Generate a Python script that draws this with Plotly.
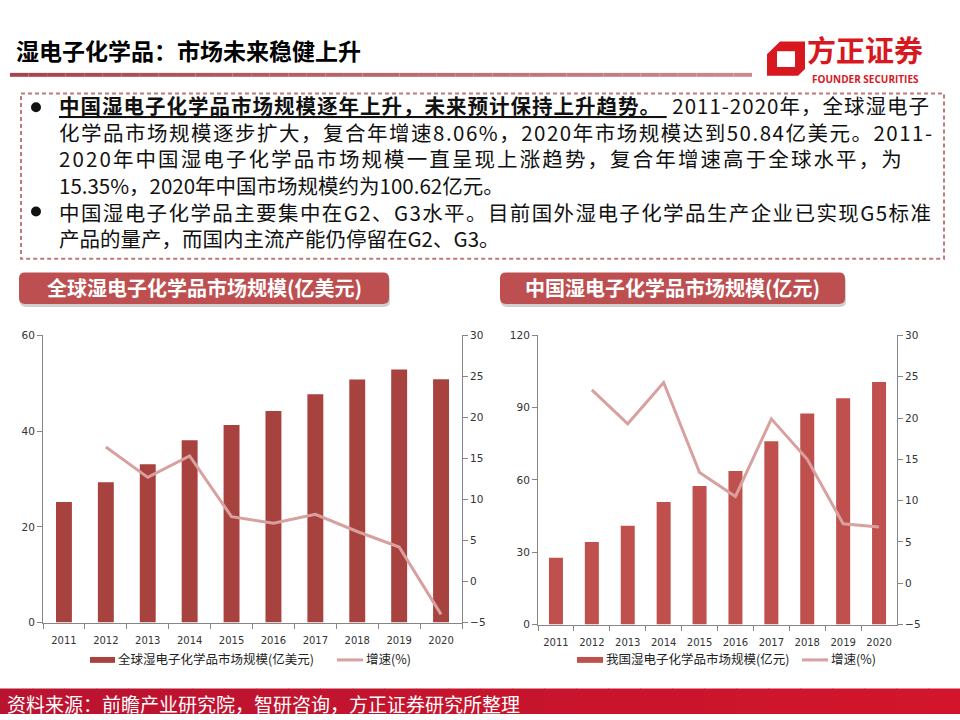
import plotly.graph_objects as go

# ---------------- data ----------------
years = ["2011", "2012", "2013", "2014", "2015", "2016", "2017", "2018", "2019", "2020"]
global_size = [25.2, 29.3, 33.1, 38.1, 41.3, 44.2, 47.7, 50.8, 52.9, 50.84]
global_growth = [None, 16.4, 12.7, 15.3, 7.9, 7.1, 8.2, 6.1, 4.2, -4.0]
china_size = [27.7, 34.3, 41.0, 50.9, 57.5, 63.7, 76.1, 87.6, 93.9, 100.62]
china_growth = [None, 23.4, 19.3, 24.3, 13.4, 10.5, 19.9, 15.0, 7.2, 6.8]

global_bar_name = "全球湿电子化学品市场规模(亿美元)"
china_bar_name = "我国湿电子化学品市场规模(亿元)"
growth_name = "增速(%)"

page_title = "湿电子化学品：市场未来稳健上升"
left_title = "全球湿电子化学品市场规模(亿美元)"
right_title = "中国湿电子化学品市场规模(亿元)"
source_text = "资料来源：前瞻产业研究院，智研咨询，方正证券研究所整理"
body_lines = [
    "<b><u>中国湿电子化学品市场规模逐年上升，未来预计保持上升趋势。 </u></b> 2011-2020年，全球湿电子",
    "化学品市场规模逐步扩大，复合年增速8.06%，2020年市场规模达到50.84亿美元。2011-",
    "2020年中国湿电子化学品市场规模一直呈现上涨趋势，复合年增速高于全球水平，为",
    "15.35%，2020年中国市场规模约为100.62亿元。",
    "中国湿电子化学品主要集中在G2、G3水平。目前国外湿电子化学品生产企业已实现G5标准",
    "产品的量产，而国内主流产能仍停留在G2、G3。",
]
line_spacing_px = [1.0, 1.5, 2.1, 0, 1.4, 0]

# ---------------- helpers ----------------
W, H = 960, 720
CJK = "Noto Sans CJK SC"
TICKF = "DejaVu Sans"


def X(p):
    return p / W


def Y(p):
    return 1 - p / H


def lerp_color(c1, c2, t):
    a = [int(c1[i:i + 2], 16) for i in (1, 3, 5)]
    b = [int(c2[i:i + 2], 16) for i in (1, 3, 5)]
    return "#" + "".join(f"{int(round(a[k] + (b[k] - a[k]) * t)):02x}" for k in range(3))


def rrect_path(x0, y0, x1, y1, r):
    pts = [
        ("M", [(x0 + r, y0)]),
        ("L", [(x1 - r, y0)]),
        ("Q", [(x1, y0), (x1, y0 + r)]),
        ("L", [(x1, y1 - r)]),
        ("Q", [(x1, y1), (x1 - r, y1)]),
        ("L", [(x0 + r, y1)]),
        ("Q", [(x0, y1), (x0, y1 - r)]),
        ("L", [(x0, y0 + r)]),
        ("Q", [(x0, y0), (x0 + r, y0)]),
    ]
    s = ""
    for cmd, ps in pts:
        s += cmd + " " + " ".join(f"{X(a):.5f},{Y(b):.5f}" for a, b in ps) + " "
    return s + "Z"


def poly_path(points):
    return "M " + " L ".join(f"{X(a):.5f},{Y(b):.5f}" for a, b in points) + " Z"


BAR_L = "#A8423F"
BAR_R = "#C0504D"
LINE_C = "#D8A09F"
AXIS_C = "#868686"

fig = go.Figure()

fig.add_trace(go.Bar(x=years, y=global_size, name=global_bar_name, width=0.38,
                     marker=dict(color=BAR_L, line=dict(width=0)),
                     xaxis="x", yaxis="y", showlegend=False))
fig.add_trace(go.Scatter(x=years, y=global_growth, name=growth_name, mode="lines",
                         line=dict(color=LINE_C, width=3),
                         xaxis="x", yaxis="y2", showlegend=False))
fig.add_trace(go.Bar(x=years, y=china_size, name=china_bar_name, width=0.39,
                     marker=dict(color=BAR_R, line=dict(width=0)),
                     xaxis="x2", yaxis="y3", showlegend=False))
fig.add_trace(go.Scatter(x=years, y=china_growth, name=growth_name, mode="lines",
                         line=dict(color=LINE_C, width=3),
                         xaxis="x2", yaxis="y4", showlegend=False))

tickfont = dict(family=TICKF, size=10, color="#333333")
common_x = dict(type="category", showline=True, linecolor=AXIS_C, linewidth=1,
                ticks="outside", tickson="boundaries", ticklen=5, tickcolor=AXIS_C,
                tickfont=tickfont, tickangle=0, ticklabelstandoff=8,
                showgrid=False, zeroline=False, fixedrange=True)
common_y = dict(showline=True, linecolor=AXIS_C, linewidth=1, ticks="outside",
                ticklen=5, tickcolor=AXIS_C, tickfont=dict(family=TICKF, size=10.5, color="#333333"),
                showgrid=False, zeroline=False, fixedrange=True)

shapes = []
annotations = []

# title
annotations.append(dict(x=X(14), y=Y(45), xref="paper", yref="paper", xanchor="left",
                        yanchor="middle", showarrow=False, text=f"<b>{page_title}</b>",
                        font=dict(family=CJK, size=23, color="#000000")))
# gradient rule under title
n = 40
x_start, x_end = 10, 752
for i in range(n):
    xa = x_start + (x_end - x_start) * i / n
    xb = x_start + (x_end - x_start) * (i + 1) / n
    shapes.append(dict(type="rect", xref="paper", yref="paper", x0=X(xa), x1=X(xb),
                       y0=Y(72), y1=Y(68), line=dict(width=0),
                       fillcolor=lerp_color("#A8434B", "#C98A8E", i / (n - 1))))

# logo
LOGO_RED = "#D7181F"
shapes.append(dict(type="path", xref="paper", yref="paper",
                   path=poly_path([(767, 49), (780, 36), (805, 36), (805, 64), (798, 71), (767, 71)]),
                   fillcolor=LOGO_RED, line=dict(width=0)))
shapes.append(dict(type="path", xref="paper", yref="paper",
                   path=poly_path([(777, 46), (795, 46), (795, 62), (777, 62)]),
                   fillcolor="#ffffff", line=dict(width=0)))
annotations.append(dict(x=X(865), y=Y(44), xref="paper", yref="paper", xanchor="center",
                        yanchor="middle", showarrow=False, text="<b>方正证券</b>",
                        font=dict(family=CJK, size=29, color=LOGO_RED)))
annotations.append(dict(x=X(865), y=Y(74), xref="paper", yref="paper", xanchor="center",
                        yanchor="middle", showarrow=False, text="<b>FOUNDER SECURITIES</b>",
                        font=dict(family="Open Sans", size=10, color=LOGO_RED)))

# dashed text box
shapes.append(dict(type="rect", xref="paper", yref="paper", x0=X(21), x1=X(944),
                   y0=Y(89), y1=Y(257), line=dict(color="#C07878", width=2, dash="4px,3px"),
                   fillcolor="rgba(0,0,0,0)"))
body_html = "<br>".join(
    (f'<span style="letter-spacing:{sp}px">{t}</span>' if sp else t)
    for t, sp in zip(body_lines, line_spacing_px)
)
annotations.append(dict(x=X(57), y=Y(168), xref="paper", yref="paper", xanchor="left",
                        yanchor="middle", align="left", showarrow=False, text=body_html,
                        font=dict(family=CJK, size=20.5, color="#111111")))
for by in (103, 209):
    shapes.append(dict(type="circle", xref="paper", yref="paper", x0=X(31), x1=X(41),
                       y0=Y(by - 5), y1=Y(by + 5), fillcolor="#111111", line=dict(width=0)))

# chart title pills
for (x0, x1, ttl) in ((19, 389, left_title), (500, 845, right_title)):
    shapes.append(dict(type="path", xref="paper", yref="paper",
                       path=rrect_path(x0 + 1, 274, x1 + 1, 306, 6),
                       fillcolor="rgba(120,120,120,0.35)", line=dict(width=0)))
    shapes.append(dict(type="path", xref="paper", yref="paper",
                       path=rrect_path(x0, 271, x1, 303, 6),
                       fillcolor="#BE4F50", line=dict(width=0)))
    annotations.append(dict(x=X((x0 + x1) / 2), y=Y(286), xref="paper", yref="paper",
                            xanchor="center", yanchor="middle", showarrow=False,
                            text=f"<b>{ttl}</b>",
                            font=dict(family=CJK, size=20, color="#ffffff")))

# manual legends
legend_items = [
    ("bar", 90, 115, global_bar_name, BAR_L),
    ("line", 337, 363, growth_name, LINE_C),
    ("bar", 577, 603, china_bar_name, BAR_R),
    ("line", 802, 828, growth_name, LINE_C),
]
LEG_Y = 665
for kind, a, b, label, col in legend_items:
    if kind == "bar":
        shapes.append(dict(type="rect", xref="paper", yref="paper", x0=X(a), x1=X(b),
                           y0=Y(LEG_Y + 3), y1=Y(LEG_Y - 3), fillcolor=col, line=dict(width=0)))
    else:
        shapes.append(dict(type="line", xref="paper", yref="paper", x0=X(a), x1=X(b),
                           y0=Y(LEG_Y), y1=Y(LEG_Y), line=dict(color=col, width=3)))
    annotations.append(dict(x=X(b + 1), y=Y(LEG_Y - 1), xref="paper", yref="paper",
                            xanchor="left", yanchor="middle", showarrow=False, text=label,
                            font=dict(family=CJK, size=12.5, color="#222222")))

# footer band
nf = 30
for i in range(nf):
    xa = W * i / nf
    xb = W * (i + 1) / nf + 0.5
    shapes.append(dict(type="rect", xref="paper", yref="paper", x0=X(xa), x1=X(xb),
                       y0=Y(720), y1=Y(694), line=dict(width=0),
                       fillcolor=lerp_color("#BA1330", "#D2152A", i / (nf - 1))))
annotations.append(dict(x=X(5), y=Y(709), xref="paper", yref="paper", xanchor="left",
                        yanchor="middle", showarrow=False, text=source_text,
                        font=dict(family=CJK, size=19, color="#ffffff")))

fig.update_layout(
    width=W, height=H, margin=dict(l=0, r=0, t=0, b=0),
    paper_bgcolor="#ffffff", plot_bgcolor="#ffffff",
    xaxis=dict(domain=[X(43), X(462)], anchor="y", **common_x),
    yaxis=dict(domain=[Y(627), Y(335)], anchor="x", range=[0, 60], dtick=20, **common_y),
    yaxis2=dict(overlaying="y", side="right", anchor="x", range=[-5, 30], dtick=5, **common_y),
    xaxis2=dict(domain=[X(538), X(897)], anchor="y3", **common_x),
    yaxis3=dict(domain=[Y(629), Y(335)], anchor="x2", range=[0, 120], dtick=30, **common_y),
    yaxis4=dict(overlaying="y3", side="right", anchor="x2", range=[-5, 30], dtick=5, **common_y),
    shapes=shapes, annotations=annotations, showlegend=False,
)

fig.write_html("out.html", config={"displayModeBar": False},
               post_script="document.body.style.margin='0';document.body.style.overflow='hidden';")
